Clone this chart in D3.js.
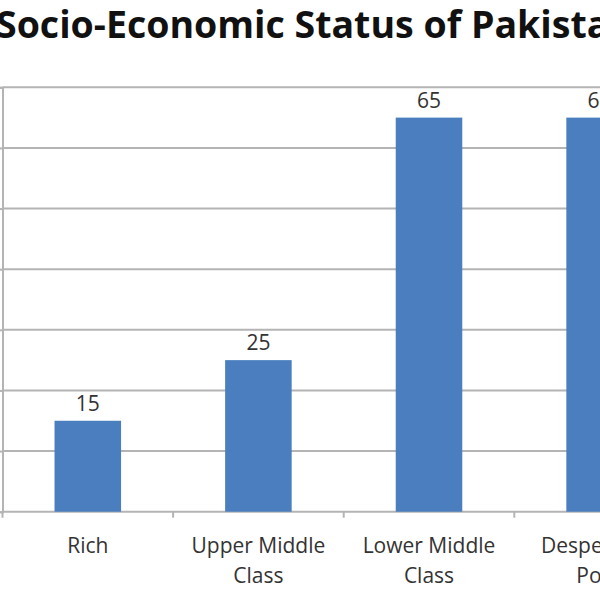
<!DOCTYPE html>
<html>
<head>
<meta charset="utf-8">
<script src="https://cdn.jsdelivr.net/npm/d3@7"></script>
<style>
  html, body { margin: 0; padding: 0; background: #fff; }
  svg { display: block; }
</style>
</head>
<body>
<svg id="chart" width="600" height="600"></svg>
<script>
const title = "Socio-Economic Status of Pakistan";
const categories = [["Rich"], ["Upper Middle", "Class"], ["Lower Middle", "Class"], ["Desperately", "Poor"]];
const categoryKeys = ["Rich", "Upper Middle Class", "Lower Middle Class", "Desperately Poor"];
const values = [15, 25, 65, 65];
const yTicks = [0, 10, 20, 30, 40, 50, 60, 70];

const svg = d3.select("#chart");
const plotLeft = 2.5, plotTop = 87.3, plotBottom = 511.7, plotRight = 684.9;

const x = d3.scaleBand().domain(categoryKeys).range([plotLeft, plotRight]).paddingInner(0.61).paddingOuter(0.305);
const xBand = d3.scaleBand().domain(categoryKeys).range([plotLeft, plotRight]).padding(0);
const y = d3.scaleLinear().domain([0, 70]).range([plotBottom, plotTop]);

const gridColor = "#b4b4b4";

// gridlines
svg.append("g")
  .selectAll("line")
  .data(yTicks)
  .join("line")
  .attr("x1", plotLeft).attr("x2", plotRight)
  .attr("y1", d => y(d)).attr("y2", d => y(d))
  .attr("stroke", gridColor).attr("stroke-width", 2);

// left axis
const yAxis = d3.axisLeft(y).tickValues(yTicks).tickSize(6).tickFormat("");
const gy = svg.append("g").attr("transform", `translate(${plotLeft},0)`).call(yAxis);
gy.selectAll("path, line").attr("stroke", gridColor).attr("stroke-width", 2);

// bottom axis ticks at category boundaries
const boundaries = d3.range(categoryKeys.length + 1).map(i => plotLeft + i * xBand.bandwidth());
svg.append("g")
  .selectAll("line")
  .data(boundaries)
  .join("line")
  .attr("x1", d => d).attr("x2", d => d)
  .attr("y1", plotBottom).attr("y2", plotBottom + 6)
  .attr("stroke", gridColor).attr("stroke-width", 2);

// bars
svg.append("g")
  .selectAll("rect")
  .data(values)
  .join("rect")
  .attr("x", (d, i) => x(categoryKeys[i]))
  .attr("width", x.bandwidth())
  .attr("y", d => y(d))
  .attr("height", d => y(0) - y(d))
  .attr("fill", "#4a7ebf");

// value labels
svg.append("g")
  .selectAll("text")
  .data(values)
  .join("text")
  .attr("x", (d, i) => x(categoryKeys[i]) + x.bandwidth() / 2)
  .attr("y", d => y(d) - 10)
  .attr("text-anchor", "middle")
  .attr("font-family", "'Open Sans', sans-serif")
  .attr("font-size", 21)
  .attr("fill", "#333")
  .text(d => d);

// category labels
const catG = svg.append("g");
categories.forEach((lines, i) => {
  const cx = xBand(categoryKeys[i]) + xBand.bandwidth() / 2;
  const t = catG.append("text")
    .attr("text-anchor", "middle")
    .attr("font-family", "'Open Sans', sans-serif")
    .attr("font-size", 21)
    .attr("fill", "#333");
  lines.forEach((ln, j) => {
    t.append("tspan").attr("x", cx).attr("y", 553 + j * 30).text(ln);
  });
});

// title
svg.append("text")
  .attr("x", -4)
  .attr("y", 38)
  .attr("font-family", "'Open Sans', sans-serif")
  .attr("font-weight", 700)
  .attr("font-size", 37.5)
  .attr("fill", "#111")
  .text(title);
</script>
</body>
</html>
